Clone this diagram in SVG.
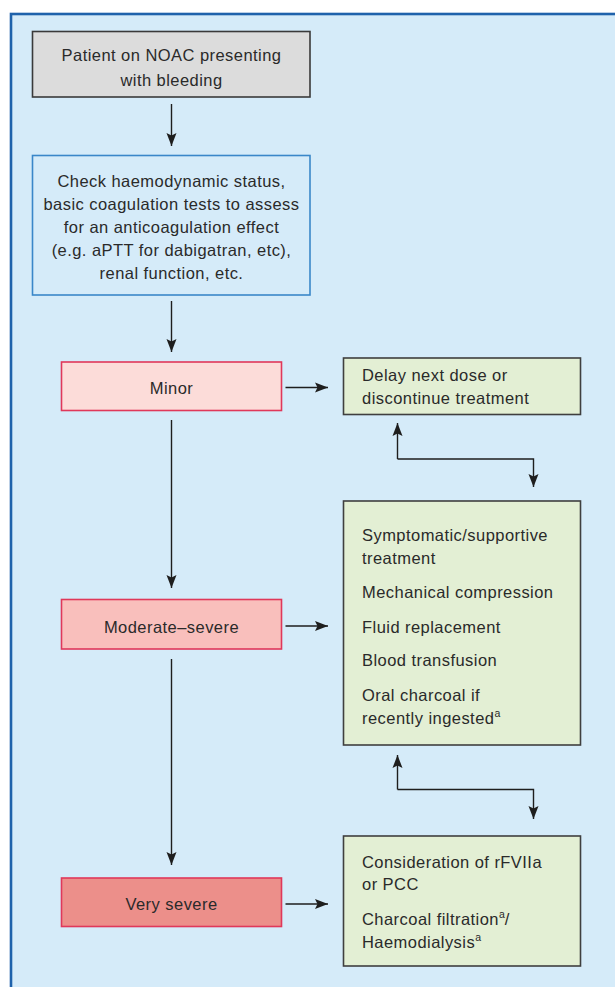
<svg xmlns="http://www.w3.org/2000/svg" width="615" height="987" viewBox="0 0 615 987">
<defs>
<marker id="ah" markerUnits="userSpaceOnUse" markerWidth="14" markerHeight="11" viewBox="0 0 14 11" refX="13" refY="5.5" orient="auto">
<path d="M0,0.5 L13,5.5 L0,10.5 L2.5,5.5 Z" fill="#1e1e1e"/>
</marker>
<style>
.t{font-family:"Liberation Sans",Arial,sans-serif;font-size:16.5px;letter-spacing:0.45px;fill:#2a2a2a}
.c{text-anchor:middle}
.sup{font-size:10.5px;letter-spacing:0}
.ln{fill:none;stroke:#1e1e1e;stroke-width:1.4}
.g{fill:#e3efd4;stroke:#3f3f3f;stroke-width:1.6}
.sev{stroke:#e0385a;stroke-width:1.6}
</style>
</defs>
<rect x="11" y="14" width="640" height="1000" fill="#d5ebf9" stroke="#1f62ab" stroke-width="2.6"/>

<g id="start">
<rect x="32.5" y="31.5" width="277.5" height="65.5" fill="#dcdcdc" stroke="#3a3a3a" stroke-width="1.6"/>
<text class="t c" x="171.5" y="61">Patient on NOAC presenting</text>
<text class="t c" x="171.5" y="85.5">with bleeding</text>
</g>

<g id="check">
<rect x="32.5" y="155.5" width="277.5" height="139.5" fill="#d5ebf9" stroke="#3a87c9" stroke-width="1.6"/>
<text class="t c" x="171.5" y="187">Check haemodynamic status,</text>
<text class="t c" x="171.5" y="210">basic coagulation tests to assess</text>
<text class="t c" x="171.5" y="233">for an anticoagulation effect</text>
<text class="t c" x="171.5" y="256">(e.g. aPTT for dabigatran, etc),</text>
<text class="t c" x="171.5" y="279">renal function, etc.</text>
</g>

<g id="minor">
<rect x="61.5" y="362" width="220" height="48.5" fill="#fcdcd9" class="sev"/>
<text class="t c" x="171.5" y="394">Minor</text>
</g>

<g id="moderate">
<rect x="61.5" y="599.5" width="220" height="49.5" fill="#f9bfbc" class="sev"/>
<text class="t c" x="171.5" y="632.5">Moderate–severe</text>
</g>

<g id="verysevere">
<rect x="61.5" y="878" width="220" height="48.5" fill="#ec8f8a" class="sev"/>
<text class="t c" x="171.5" y="909.5">Very severe</text>
</g>

<g id="delay">
<rect x="343.5" y="358" width="237" height="56.5" class="g"/>
<text class="t" x="362" y="381">Delay next dose or</text>
<text class="t" x="362" y="404">discontinue treatment</text>
</g>

<g id="supportive">
<rect x="343.5" y="501" width="237" height="244" class="g"/>
<text class="t" x="362" y="540.5">Symptomatic/supportive</text>
<text class="t" x="362" y="563.5">treatment</text>
<text class="t" x="362" y="597.5">Mechanical compression</text>
<text class="t" x="362" y="632.5">Fluid replacement</text>
<text class="t" x="362" y="666">Blood transfusion</text>
<text class="t" x="362" y="701">Oral charcoal if</text>
<text class="t" x="362" y="723.5">recently ingested<tspan class="sup" dy="-7">a</tspan></text>
</g>

<g id="reversal">
<rect x="343.5" y="836" width="237" height="130" class="g"/>
<text class="t" x="362" y="867.5">Consideration of rFVIIa</text>
<text class="t" x="362" y="890">or PCC</text>
<text class="t" x="362" y="925">Charcoal filtration<tspan class="sup" dy="-7">a</tspan><tspan dy="7">/</tspan></text>
<text class="t" x="362" y="947.5">Haemodialysis<tspan class="sup" dy="-7">a</tspan></text>
</g>

<g id="connectors">
<line class="ln" x1="171.5" y1="104" x2="171.5" y2="146" marker-end="url(#ah)"/>
<line class="ln" x1="171.5" y1="301" x2="171.5" y2="352" marker-end="url(#ah)"/>
<line class="ln" x1="171.5" y1="420" x2="171.5" y2="588" marker-end="url(#ah)"/>
<line class="ln" x1="171.5" y1="659" x2="171.5" y2="865" marker-end="url(#ah)"/>
<line class="ln" x1="285.5" y1="387.5" x2="328" y2="387.5" marker-end="url(#ah)"/>
<line class="ln" x1="285.5" y1="626" x2="328" y2="626" marker-end="url(#ah)"/>
<line class="ln" x1="285.5" y1="904" x2="328" y2="904" marker-end="url(#ah)"/>
<path class="ln" d="M397.5,459 L397.5,423" marker-end="url(#ah)"/>
<path class="ln" d="M397.5,459 L533.5,459 L533.5,487" marker-end="url(#ah)"/>
<path class="ln" d="M397.5,789.5 L397.5,755" marker-end="url(#ah)"/>
<path class="ln" d="M397.5,789.5 L533.5,789.5 L533.5,819" marker-end="url(#ah)"/>
</g>
</svg>
